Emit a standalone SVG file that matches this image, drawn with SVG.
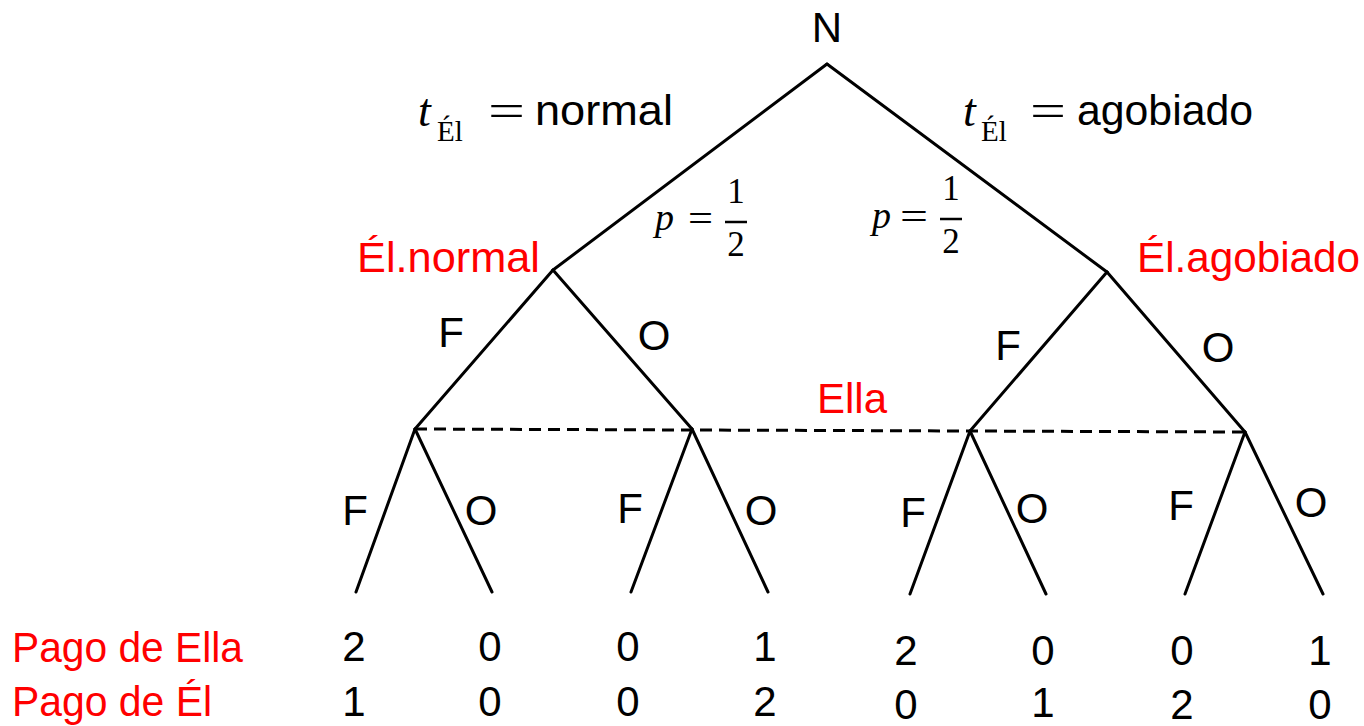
<svg xmlns="http://www.w3.org/2000/svg" width="1364" height="726" viewBox="0 0 1364 726">
<style>
.e{stroke:#000;stroke-width:3;fill:none;stroke-linecap:round}
.d{stroke:#000;stroke-width:3;fill:none;stroke-dasharray:12 7}
.t{font-family:"Liberation Sans",Arial,sans-serif;font-size:42px;fill:#000}
.r{fill:#FF0000}
.m{font-family:"Liberation Serif","Times New Roman",serif;fill:#000}
.i{font-style:italic}
.c{text-anchor:middle}
</style>
<rect width="1364" height="726" fill="#fff"/>
<g id="connectors">
<line class="e" x1="827" y1="64" x2="553" y2="270"/>
<line class="e" x1="827" y1="64" x2="1107" y2="272"/>
<line class="e" x1="553" y1="270" x2="415" y2="429"/>
<line class="e" x1="553" y1="270" x2="692" y2="429"/>
<line class="e" x1="1107" y1="272" x2="970" y2="431"/>
<line class="e" x1="1107" y1="272" x2="1245" y2="432"/>
<line class="e" x1="415" y1="429" x2="356" y2="592"/>
<line class="e" x1="415" y1="429" x2="492" y2="592"/>
<line class="e" x1="692" y1="429" x2="631" y2="592"/>
<line class="e" x1="692" y1="429" x2="768" y2="592"/>
<line class="e" x1="970" y1="431" x2="910" y2="594"/>
<line class="e" x1="970" y1="431" x2="1046" y2="594"/>
<line class="e" x1="1245" y1="432" x2="1185" y2="594"/>
<line class="e" x1="1245" y1="432" x2="1323" y2="594"/>
<line class="d" x1="415" y1="429" x2="1245" y2="432"/>
</g>
<g id="edge-labels">
<text class="m i" x="418" y="126" font-size="46">t</text>
<text class="m" x="437" y="141" font-size="29">Él</text>
<text class="m" x="488" y="126" font-size="46" textLength="37" lengthAdjust="spacingAndGlyphs">=</text>
<text class="t" x="535" y="125" textLength="138" lengthAdjust="spacingAndGlyphs">normal</text>
<text class="m i" x="963" y="126" font-size="46">t</text>
<text class="m" x="981" y="141" font-size="29">Él</text>
<text class="m" x="1030" y="126" font-size="46" textLength="36" lengthAdjust="spacingAndGlyphs">=</text>
<text class="t" x="1077" y="125" textLength="176" lengthAdjust="spacingAndGlyphs">agobiado</text>
<text class="m i" x="655" y="230" font-size="38">p</text>
<text class="m" x="688" y="231" font-size="38" textLength="25" lengthAdjust="spacingAndGlyphs">=</text>
<line x1="725" y1="222" x2="747" y2="222" stroke="#000" stroke-width="2.5"/>
<text class="m c" x="736" y="203" font-size="35">1</text>
<text class="m c" x="736" y="256" font-size="35">2</text>
<text class="m i" x="872" y="228" font-size="38">p</text>
<text class="m" x="900" y="229" font-size="38" textLength="28" lengthAdjust="spacingAndGlyphs">=</text>
<line x1="940" y1="219" x2="962" y2="219" stroke="#000" stroke-width="2.5"/>
<text class="m c" x="951" y="200" font-size="35">1</text>
<text class="m c" x="951" y="253" font-size="35">2</text>
<text class="t c" x="451" y="347">F</text>
<text class="t c" x="654" y="350">O</text>
<text class="t c" x="1008" y="360">F</text>
<text class="t c" x="1218" y="362">O</text>
<text class="t c" x="355" y="525">F</text>
<text class="t c" x="481" y="525">O</text>
<text class="t c" x="630" y="523">F</text>
<text class="t c" x="761" y="525">O</text>
<text class="t c" x="913" y="527">F</text>
<text class="t c" x="1032" y="523">O</text>
<text class="t c" x="1181" y="520">F</text>
<text class="t c" x="1311" y="517">O</text>
</g>
<g id="node-N"><text class="t c" x="827" y="42">N</text></g>
<g id="node-el-normal"><text class="t r" x="357" y="272" textLength="183" lengthAdjust="spacingAndGlyphs">Él.normal</text></g>
<g id="node-el-agobiado"><text class="t r" x="1137" y="272" textLength="223" lengthAdjust="spacingAndGlyphs">Él.agobiado</text></g>
<g id="node-ella"><text class="t r c" x="852" y="413">Ella</text></g>
<g id="payoff-labels">
<text class="t r" x="12" y="662" textLength="231" lengthAdjust="spacingAndGlyphs">Pago de Ella</text>
<text class="t r" x="12" y="716" textLength="200" lengthAdjust="spacingAndGlyphs">Pago de Él</text>
</g>
<g id="leaf-1"><text class="t c" x="354" y="661">2</text><text class="t c" x="354" y="716">1</text></g>
<g id="leaf-2"><text class="t c" x="490" y="661">0</text><text class="t c" x="490" y="716">0</text></g>
<g id="leaf-3"><text class="t c" x="628" y="661">0</text><text class="t c" x="628" y="716">0</text></g>
<g id="leaf-4"><text class="t c" x="765" y="661">1</text><text class="t c" x="765" y="716">2</text></g>
<g id="leaf-5"><text class="t c" x="906" y="665">2</text><text class="t c" x="906" y="719">0</text></g>
<g id="leaf-6"><text class="t c" x="1043" y="665">0</text><text class="t c" x="1043" y="717">1</text></g>
<g id="leaf-7"><text class="t c" x="1182" y="665">0</text><text class="t c" x="1182" y="719">2</text></g>
<g id="leaf-8"><text class="t c" x="1320" y="665">1</text><text class="t c" x="1320" y="719">0</text></g>
</svg>
